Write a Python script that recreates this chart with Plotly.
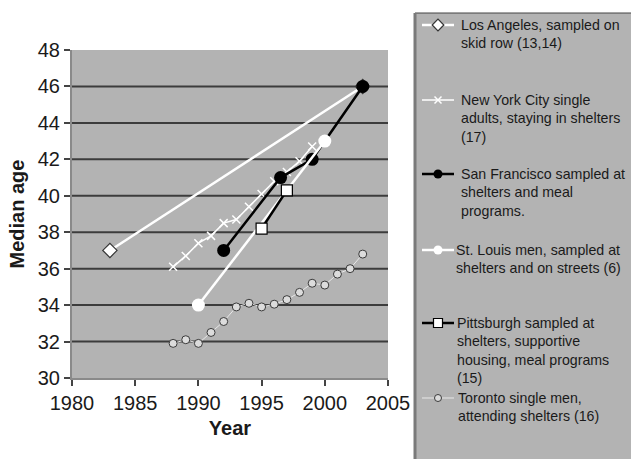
import plotly.graph_objects as go

# Median age of homeless adults by study site and year
la_years = [1983, 2003]
la_ages = [37, 46]

nyc_years = [1988, 1989, 1990, 1991, 1992, 1993, 1994, 1995, 1996, 1997, 1998, 1999]
nyc_ages = [36.1, 36.7, 37.4, 37.8, 38.5, 38.7, 39.4, 40.1, 40.8, 41.3, 41.9, 42.7]

sf_years = [1992, 1996.5, 1999, 2003]
sf_ages = [37, 41, 42, 46]

stl_years = [1990, 2000]
stl_ages = [34, 43]

pitt_years = [1995, 1997]
pitt_ages = [38.2, 40.3]

tor_years = [1988, 1989, 1990, 1991, 1992, 1993, 1994, 1995, 1996, 1997,
             1998, 1999, 2000, 2001, 2002, 2003]
tor_ages = [31.9, 32.1, 31.9, 32.5, 33.1, 33.9, 34.1, 33.9, 34.05, 34.3,
            34.7, 35.2, 35.1, 35.7, 36.0, 36.8]

names = [
    "Los Angeles, sampled on<br>skid row (13,14)",
    "New York City single<br>adults, staying in shelters<br>(17)",
    "San Francisco sampled at<br>shelters and meal<br>programs.",
    "St. Louis men, sampled at<br>shelters and on streets (6)",
    "Pittsburgh sampled at<br>shelters, supportive<br>housing, meal programs<br>(15)",
    "Toronto single men,<br>attending shelters (16)",
]

x_range = [1980, 2005]
y_ticks = [30, 32, 34, 36, 38, 40, 42, 44, 46, 48]

FONT = "Liberation Sans, Arial, sans-serif"
BG = "#b3b3b3"
TXT = "#1a1a1a"
W, H = 631, 459

# plot area and legend panel, in pixels
PL, PT, PR, PB = 72, 50, 388, 378
KL, KT = 415, 13

styles = [
    dict(line=dict(color="white", width=2.5),
         marker=dict(symbol="diamond", size=11, color="white",
                     line=dict(color="#333333", width=1.2))),
    dict(line=dict(color="white", width=1.5),
         marker=dict(symbol="x-thin", size=8, color="white",
                     line=dict(color="white", width=1.5))),
    dict(line=dict(color="black", width=2.5),
         marker=dict(symbol="circle", size=13, color="black")),
    dict(line=dict(color="white", width=2.5),
         marker=dict(symbol="circle", size=13, color="white")),
    dict(line=dict(color="black", width=2.5),
         marker=dict(symbol="square", size=11, color="white",
                     line=dict(color="black", width=1.2))),
    dict(line=dict(color="#e8e8e8", width=1),
         marker=dict(symbol="circle", size=8, color="#dcdcdc",
                     line=dict(color="#3a3a3a", width=1))),
]
series = [(la_years, la_ages), (nyc_years, nyc_ages), (sf_years, sf_ages),
          (stl_years, stl_ages), (pitt_years, pitt_ages), (tor_years, tor_ages)]

fig = go.Figure()
for (xs, ys), st, nm in zip(series, styles, names):
    fig.add_trace(go.Scatter(x=xs, y=ys, mode="lines+markers", showlegend=False,
                             name=nm.replace("<br>", " "), **st))

# legend keys, drawn on a pixel-scaled overlay inside the legend panel
key_y = [25, 100, 174, 250, 323, 398]
text_x = [459, 459, 459, 454, 455, 456]
key_marker_size = [9, 7, 9, 9, 9, 7]
for i, (st, nm) in enumerate(zip(styles, names)):
    ky = key_y[i]
    fig.add_trace(go.Scatter(
        x=[422, 438, 454], y=[ky, ky, ky], mode="lines",
        line=st["line"], xaxis="x2", yaxis="y2", showlegend=False, hoverinfo="skip"))
    mk = dict(st["marker"])
    mk["size"] = key_marker_size[i]
    fig.add_trace(go.Scatter(
        x=[438], y=[ky], mode="markers", marker=mk,
        xaxis="x2", yaxis="y2", showlegend=False, hoverinfo="skip"))
    fig.add_annotation(
        xref="x2", yref="y2", x=text_x[i], y=ky - 10.5, text=nm,
        xanchor="left", yanchor="top", align="left", showarrow=False,
        font=dict(family=FONT, size=14.2, color=TXT))

# horizontal grid lines (interior ticks only)
for v in y_ticks[1:-1]:
    fig.add_shape(type="line", xref="x", yref="y", x0=x_range[0], x1=x_range[1],
                  y0=v, y1=v, line=dict(color="#3c3c3c", width=2), layer="below")

# legend panel borders
fig.add_shape(type="line", xref="paper", yref="paper",
              x0=KL / W, x1=1.02, y0=1 - KT / H, y1=1 - KT / H,
              line=dict(color="#444444", width=1))
fig.add_shape(type="line", xref="paper", yref="paper",
              x0=KL / W, x1=KL / W, y0=-0.02, y1=1 - KT / H,
              line=dict(color="#7a7a7a", width=3))

fig.update_layout(
    width=W, height=H,
    margin=dict(l=0, r=0, t=0, b=0, autoexpand=False),
    paper_bgcolor="white",
    plot_bgcolor=BG,
    font=dict(family=FONT, color=TXT),
    showlegend=False,
    xaxis=dict(
        domain=[PL / W, PR / W], anchor="y", automargin=False,
        range=x_range, dtick=5, tick0=1980,
        showgrid=False, zeroline=False,
        showline=True, linecolor="#8a8a8a", linewidth=2,
        ticks="outside", ticklen=6, tickwidth=1.5, tickcolor="#444444",
        tickfont=dict(family=FONT, size=20, color=TXT),
        title=dict(text="<b>Year</b>", font=dict(family=FONT, size=20, color=TXT),
                   standoff=8),
    ),
    yaxis=dict(
        domain=[1 - PB / H, 1 - PT / H], anchor="x", automargin=False,
        range=[y_ticks[0], y_ticks[-1]], tickvals=y_ticks,
        showgrid=False, zeroline=False,
        showline=True, linecolor="#8a8a8a", linewidth=2,
        ticks="outside", ticklen=6, tickwidth=1.5, tickcolor="#444444",
        tickfont=dict(family=FONT, size=20, color=TXT),
        title=dict(text="<b>Median age</b>", font=dict(family=FONT, size=20, color=TXT),
                   standoff=8),
    ),
    xaxis2=dict(domain=[KL / W, 1], anchor="y2", range=[KL, W], visible=False,
                fixedrange=True, automargin=False),
    yaxis2=dict(domain=[0, 1 - KT / H], anchor="x2", range=[H, KT], visible=False,
                fixedrange=True, automargin=False),
)

fig.write_html("out.html")
